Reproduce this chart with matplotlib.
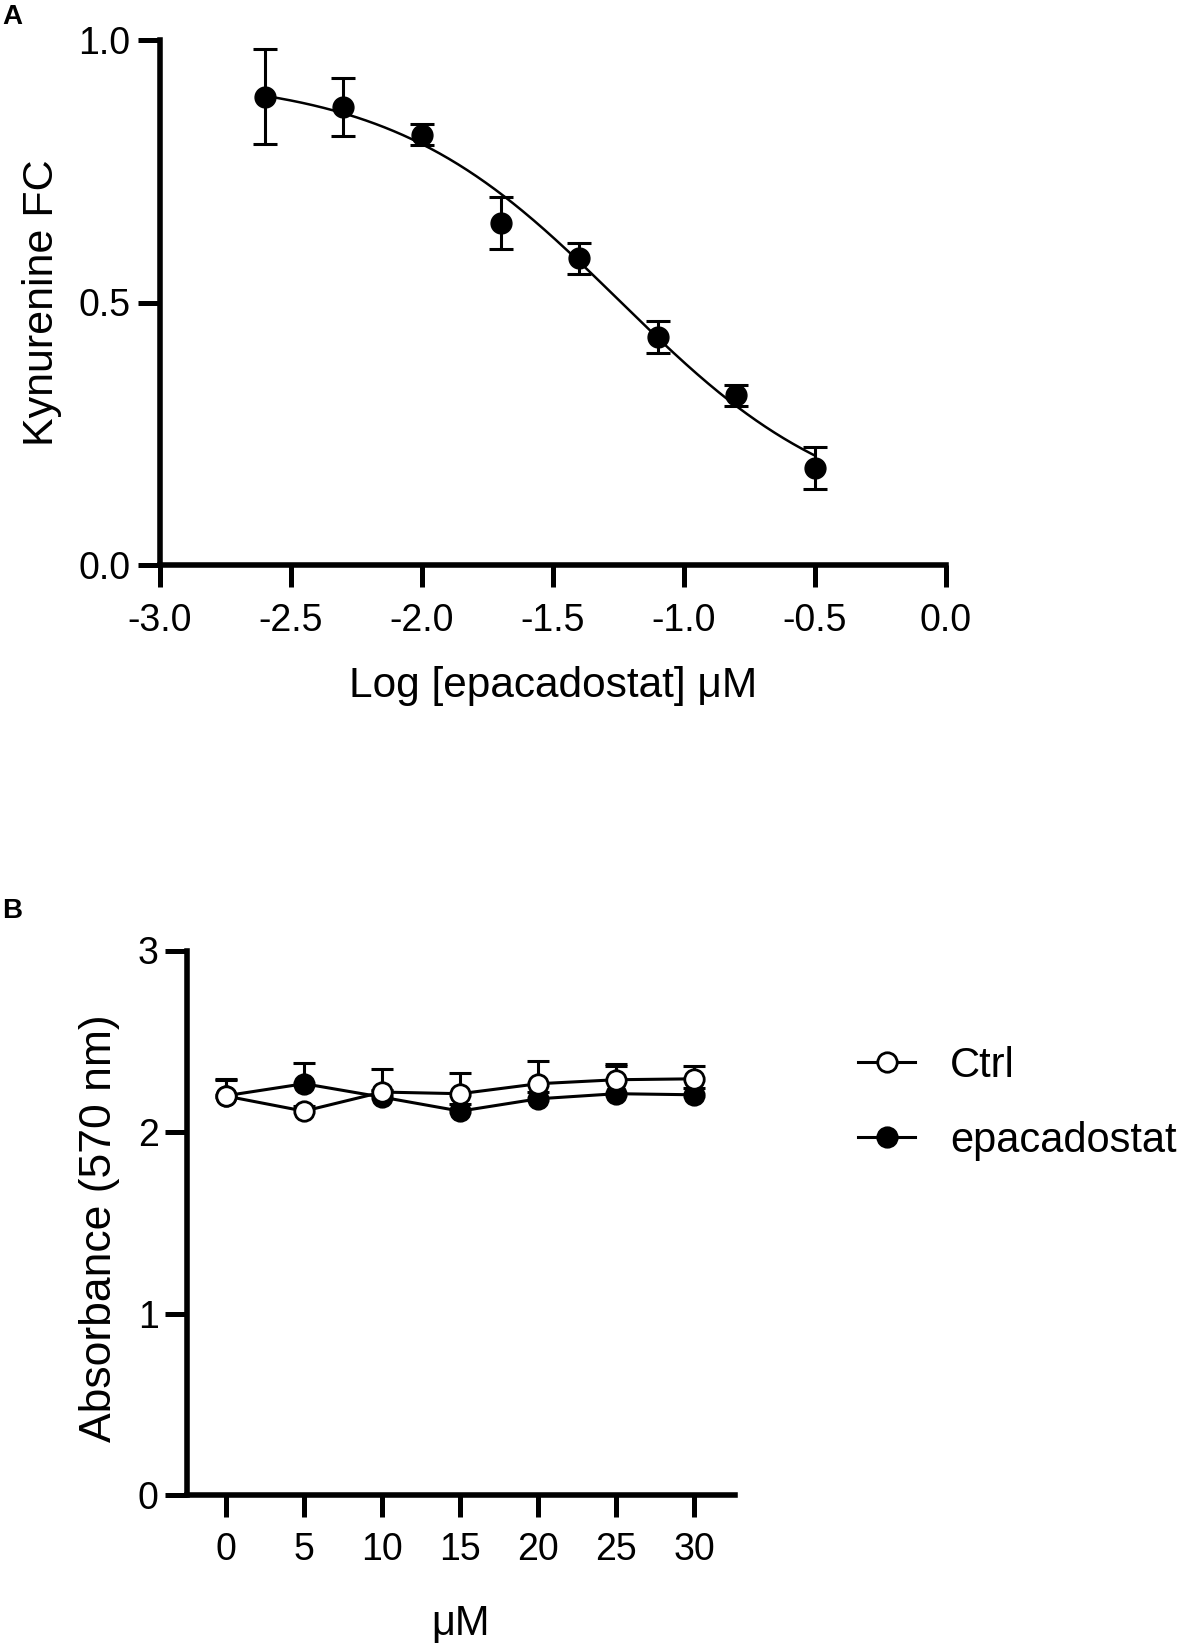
import numpy as np
import matplotlib
matplotlib.use("Agg")
import matplotlib.pyplot as plt
from matplotlib.ticker import FormatStrFormatter, FixedLocator

plt.rcParams['font.family'] = ['Liberation Sans', 'DejaVu Sans']
plt.rcParams['axes.unicode_minus'] = False

# ---------------- Panel A data ----------------
log_conc = [-2.6, -2.3, -2.0, -1.7, -1.4, -1.1, -0.8, -0.5]
kyn_fc = [0.892, 0.873, 0.820, 0.651, 0.584, 0.434, 0.323, 0.184]
kyn_err = [0.090, 0.055, 0.020, 0.050, 0.030, 0.030, 0.020, 0.040]
# 4-parameter logistic fit (top, bottom, logIC50, hill)
fit_top = 0.93
fit_bottom = 0.08
fit_logic50 = -1.25
fit_hill = 1.0
a_xticks = [-3.0, -2.5, -2.0, -1.5, -1.0, -0.5, 0.0]
a_yticks = [0.0, 0.5, 1.0]

# ---------------- Panel B data ----------------
conc_um = [0, 5, 10, 15, 20, 25, 30]
ctrl_abs = [2.198, 2.115, 2.220, 2.211, 2.266, 2.288, 2.293]
ctrl_err = [0.090, 0.030, 0.128, 0.113, 0.124, 0.084, 0.068]
epa_abs = [2.200, 2.266, 2.192, 2.115, 2.183, 2.211, 2.205]
epa_err = [0.090, 0.115, 0.040, 0.040, 0.040, 0.150, 0.040]
b_xticks = [0, 5, 10, 15, 20, 25, 30]
b_yticks = [0, 1, 2, 3]

W, H = 1191, 1648
fig = plt.figure(figsize=(W / 100, H / 100), dpi=100)

SPINE_LW = 4.0
TICK_LEN = 15.5
TICK_W = 3.6
TICK_FS = 27


def style_axes(ax):
    for s in ('top', 'right'):
        ax.spines[s].set_visible(False)
    for s in ('left', 'bottom'):
        ax.spines[s].set_linewidth(SPINE_LW)
        ax.spines[s].set_capstyle('projecting')
    ax.tick_params(axis='both', which='major', direction='out', length=TICK_LEN,
                   width=TICK_W, labelsize=TICK_FS, color='black')


# ---------------- Panel A ----------------
axA = fig.add_axes([160 / W, 1 - 565 / H, (946 - 160) / W, (565 - 40) / H])
style_axes(axA)
axA.set_xlim(-3.0, 0.0)
axA.set_ylim(0.0, 1.0)
axA.xaxis.set_major_locator(FixedLocator(a_xticks))
axA.yaxis.set_major_locator(FixedLocator(a_yticks))
axA.xaxis.set_major_formatter(FormatStrFormatter('%.1f'))
axA.yaxis.set_major_formatter(FormatStrFormatter('%.1f'))
axA.tick_params(axis='x', pad=12)
axA.tick_params(axis='y', pad=6)

xs = np.linspace(min(log_conc), max(log_conc), 300)
curve = fit_bottom + (fit_top - fit_bottom) / (1 + 10 ** ((xs - fit_logic50) * fit_hill))
axA.plot(xs, curve, color='black', lw=1.8, zorder=2)
axA.errorbar(log_conc, kyn_fc, yerr=kyn_err, fmt='none', ecolor='black',
             elinewidth=2.2, capsize=8.3, capthick=2.2, zorder=3)
axA.plot(log_conc, kyn_fc, 'o', color='black', ms=15, zorder=4, clip_on=False)

axA.set_xlabel('Log [epacadostat] μM', fontsize=30.5)
axA.set_ylabel('Kynurenine FC', fontsize=31)
axA.xaxis.set_label_coords(0.5, -0.192)
axA.yaxis.set_label_coords(-0.125, 0.5)

fig.text(2 / W, 1 - 24 / H, 'A', fontsize=20, fontweight='bold', ha='left', va='baseline')

# ---------------- Panel B ----------------
axB = fig.add_axes([187 / W, 1 - 1495 / H, (735 - 187) / W, (1495 - 950.5) / H])
style_axes(axB)
axB.set_xlim(-2.5, 32.6)
axB.set_ylim(0, 3)
axB.xaxis.set_major_locator(FixedLocator(b_xticks))
axB.yaxis.set_major_locator(FixedLocator(b_yticks))
axB.tick_params(axis='x', pad=11)
axB.tick_params(axis='y', pad=5)

zero = [0] * len(conc_um)
eb1 = axB.errorbar(conc_um, epa_abs, yerr=[zero, epa_err], fmt='none', ecolor='black',
                   elinewidth=2.2, capsize=8, capthick=2.2, zorder=2)
eb1[1][0].set_visible(False)
l_epa, = axB.plot(conc_um, epa_abs, '-o', color='black', lw=2.2, ms=14,
                  mfc='black', mec='black', mew=2, zorder=3, label='epacadostat')
eb2 = axB.errorbar(conc_um, ctrl_abs, yerr=[zero, ctrl_err], fmt='none', ecolor='black',
                   elinewidth=2.2, capsize=8, capthick=2.2, zorder=4)
eb2[1][0].set_visible(False)
l_ctrl, = axB.plot(conc_um, ctrl_abs, '-o', color='black', lw=2.2, ms=14,
                   mfc='white', mec='black', mew=2, zorder=5, label='Ctrl')

axB.set_xlabel('μM', fontsize=30)
axB.set_ylabel('Absorbance (570 nm)', fontsize=32)
axB.xaxis.set_label_coords(0.5, -0.2)
axB.yaxis.set_label_coords(-0.122, 0.49)

LEG_FS = 30
leg = axB.legend([l_ctrl, l_epa], ['Ctrl', 'epacadostat'], loc='upper left',
                 bbox_to_anchor=(858 / W, 1 - 1046 / H), bbox_transform=fig.transFigure,
                 frameon=False, fontsize=LEG_FS, borderpad=0, borderaxespad=0,
                 handlelength=1.37, handletextpad=0.84, labelspacing=0.84, numpoints=1)

fig.text(2 / W, 1 - 918 / H, 'B', fontsize=20, fontweight='bold', ha='left', va='baseline')

fig.savefig('out.png', dpi=100)
